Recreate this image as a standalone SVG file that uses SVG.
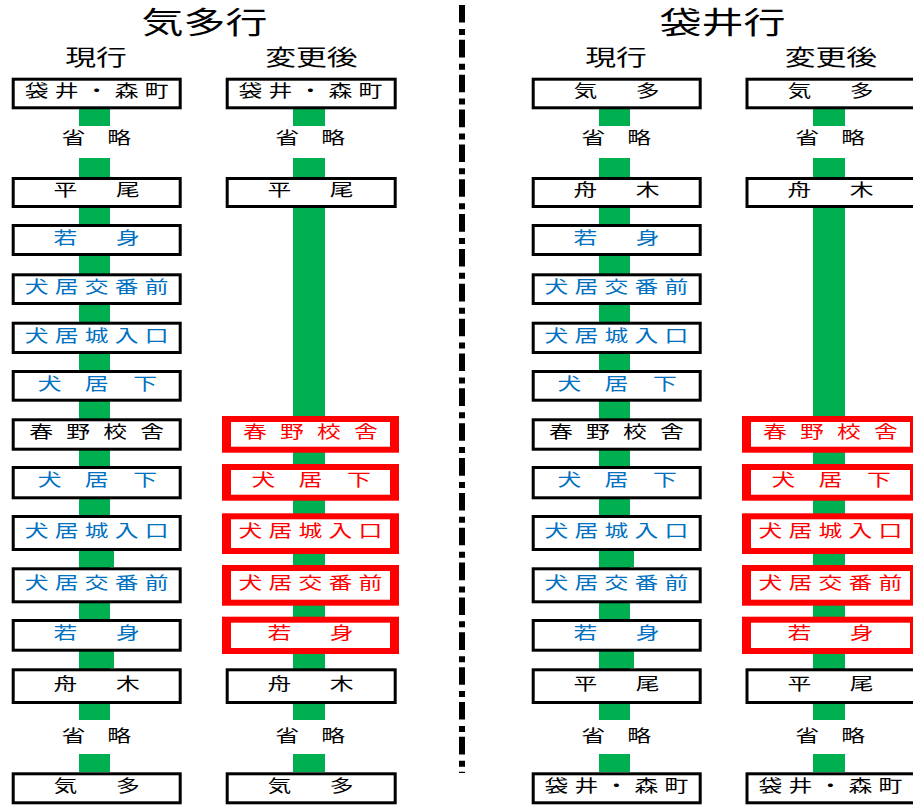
<svg xmlns="http://www.w3.org/2000/svg" width="913" height="805" viewBox="0 0 913 805">
<style>
text{font-family:"Noto Sans CJK JP","Noto Sans CJK SC",sans-serif;text-anchor:middle}
.box{fill:#fff;stroke:#000;stroke-width:3}
.rb{fill:#f00}
.in{fill:#fff}
.g{fill:#00B050}
.st{font-size:17px}
.k{fill:#000}.b{fill:#0070C0}.r{fill:#f00}
.t1{font-size:30px;fill:#000}
.t2{font-size:22px;fill:#000}
.div{stroke:#000;stroke-width:6;stroke-dasharray:17.6 6.3 6 4.95;fill:none}
</style>
<rect width="913" height="805" fill="#fff"/>
<g id="titles">
<text class="t1" x="204.5" y="33" transform="matrix(1.4 0 0 1 -81.8 0)">気多行</text>
<text class="t1" x="722.5" y="33" transform="matrix(1.4 0 0 1 -289 0)">袋井行</text>
<text class="t2" x="96" y="65.5" transform="matrix(1.4 0 0 1 -38.4 0)">現行</text>
<text class="t2" x="311.5" y="65.5" transform="matrix(1.4 0 0 1 -124.6 0)">変更後</text>
<text class="t2" x="616" y="65.5" transform="matrix(1.4 0 0 1 -246.4 0)">現行</text>
<text class="t2" x="831" y="65.5" transform="matrix(1.4 0 0 1 -332.4 0)">変更後</text>
</g>
<line id="divider" class="div" x1="462" y1="5" x2="462" y2="773"/>
<g id="connectors">
<rect class="g" x="79" y="109" width="31" height="17"/>
<rect class="g" x="79" y="158" width="31" height="562"/>
<rect class="g" x="79" y="551" width="35" height="16"/>
<rect class="g" x="79" y="651" width="35" height="17"/>
<rect class="g" x="79" y="754" width="31" height="18"/>
<rect class="g" x="293" y="109" width="32" height="17"/>
<rect class="g" x="293" y="158" width="32" height="562"/>
<rect class="g" x="293" y="754" width="32" height="18"/>
<rect class="g" x="599" y="109" width="31" height="17"/>
<rect class="g" x="599" y="158" width="31" height="562"/>
<rect class="g" x="599" y="551" width="35" height="16"/>
<rect class="g" x="599" y="651" width="35" height="17"/>
<rect class="g" x="599" y="754" width="31" height="18"/>
<rect class="g" x="813" y="109" width="32" height="17"/>
<rect class="g" x="813" y="158" width="32" height="562"/>
<rect class="g" x="813" y="754" width="32" height="18"/>
</g>
<g id="omit-labels" class="st k">
<text x="80 112.8" y="144.5" transform="matrix(1.4 0 0 1 -38.68 0)">省略</text>
<text x="80 112.8" y="742" transform="matrix(1.4 0 0 1 -38.68 0)">省略</text>
<text x="293.8 326.6" y="144.5" transform="matrix(1.4 0 0 1 -124.2 0)">省略</text>
<text x="293.8 326.6" y="742" transform="matrix(1.4 0 0 1 -124.2 0)">省略</text>
<text x="599.8 632.6" y="144.5" transform="matrix(1.4 0 0 1 -246.6 0)">省略</text>
<text x="599.8 632.6" y="742" transform="matrix(1.4 0 0 1 -246.6 0)">省略</text>
<text x="813.8 846.6" y="144.5" transform="matrix(1.4 0 0 1 -332.2 0)">省略</text>
<text x="813.8 846.6" y="742" transform="matrix(1.4 0 0 1 -332.2 0)">省略</text>
</g>

<!-- Left: 気多行 現行 -->
<g id="kita-cur-1"><rect class="box" x="13.2" y="79.2" width="167" height="28.6"/><text class="st k" x="53.84 75.27 96.7 118.13 139.56" y="97.3" transform="matrix(1.4 0 0 1 -38.68 0)">袋井・森町</text></g>
<g id="kita-cur-2"><rect class="box" x="13.2" y="178.5" width="167" height="28"/><text class="st k" x="74.4 119" y="196.3" transform="matrix(1.4 0 0 1 -38.68 0)">平尾</text></g>
<g id="kita-cur-3"><rect class="box" x="13.2" y="225.5" width="167" height="29"/><text class="st b" x="74.4 119" y="243.8" transform="matrix(1.4 0 0 1 -38.68 0)">若身</text></g>
<g id="kita-cur-4"><rect class="box" x="13.2" y="274.8" width="167" height="28.7"/><text class="st b" x="53.84 75.27 96.7 118.13 139.56" y="293" transform="matrix(1.4 0 0 1 -38.68 0)">犬居交番前</text></g>
<g id="kita-cur-5"><rect class="box" x="13.2" y="323.2" width="167" height="29.3"/><text class="st b" x="53.84 75.27 96.7 118.13 139.56" y="341.7" transform="matrix(1.4 0 0 1 -38.68 0)">犬居城入口</text></g>
<g id="kita-cur-6"><rect class="box" x="13.2" y="371.5" width="167" height="28.7"/><text class="st b" x="63.1 96.7 131.3" y="389.7" transform="matrix(1.4 0 0 1 -38.68 0)">犬居下</text></g>
<g id="kita-cur-7"><rect class="box" x="13.2" y="419.8" width="167" height="29.4"/><text class="st k" x="57.06 83.49 109.91 136.34" y="438.3" transform="matrix(1.4 0 0 1 -38.68 0)">春野校舎</text></g>
<g id="kita-cur-8"><rect class="box" x="13.2" y="467.5" width="167" height="30.3"/><text class="st b" x="63.1 96.7 131.3" y="486.5" transform="matrix(1.4 0 0 1 -38.68 0)">犬居下</text></g>
<g id="kita-cur-9"><rect class="box" x="13.2" y="516.5" width="167" height="33"/><text class="st b" x="53.84 75.27 96.7 118.13 139.56" y="536.8" transform="matrix(1.4 0 0 1 -38.68 0)">犬居城入口</text></g>
<g id="kita-cur-10"><rect class="box" x="13.2" y="568.8" width="167" height="33"/><text class="st b" x="53.84 75.27 96.7 118.13 139.56" y="589.1" transform="matrix(1.4 0 0 1 -38.68 0)">犬居交番前</text></g>
<g id="kita-cur-11"><rect class="box" x="13.2" y="620.5" width="167" height="29.7"/><text class="st b" x="74.4 119" y="639.2" transform="matrix(1.4 0 0 1 -38.68 0)">若身</text></g>
<g id="kita-cur-12"><rect class="box" x="13.2" y="669.8" width="167" height="32.7"/><text class="st k" x="74.4 119" y="690" transform="matrix(1.4 0 0 1 -38.68 0)">舟木</text></g>
<g id="kita-cur-13"><rect class="box" x="13.2" y="773.8" width="167" height="29"/><text class="st k" x="74.4 119" y="792.1" transform="matrix(1.4 0 0 1 -38.68 0)">気多</text></g>

<!-- Left: 気多行 変更後 -->
<g id="kita-new-1"><rect class="box" x="227.2" y="79.2" width="168" height="28.6"/><text class="st k" x="267.64 289.07 310.5 331.93 353.36" y="97.3" transform="matrix(1.4 0 0 1 -124.2 0)">袋井・森町</text></g>
<g id="kita-new-2"><rect class="box" x="227.2" y="178.5" width="168" height="28"/><text class="st k" x="288.2 332.8" y="196.3" transform="matrix(1.4 0 0 1 -124.2 0)">平尾</text></g>
<g id="kita-new-7"><rect class="rb" x="222" y="416" width="177" height="36.7"/><rect class="in" x="231" y="422" width="159" height="24.7"/><text class="st r" x="270.86 297.29 323.71 350.14" y="438" transform="matrix(1.4 0 0 1 -124.2 0)">春野校舎</text></g>
<g id="kita-new-8"><rect class="rb" x="222" y="464" width="177" height="36.7"/><rect class="in" x="231" y="470" width="159" height="24.7"/><text class="st r" x="276.9 310.5 345.1" y="486" transform="matrix(1.4 0 0 1 -124.2 0)">犬居下</text></g>
<g id="kita-new-9"><rect class="rb" x="222" y="513.3" width="177" height="40.7"/><rect class="in" x="231" y="519.3" width="159" height="28.7"/><text class="st r" x="267.64 289.07 310.5 331.93 353.36" y="537" transform="matrix(1.4 0 0 1 -124.2 0)">犬居城入口</text></g>
<g id="kita-new-10"><rect class="rb" x="222" y="565" width="177" height="40.7"/><rect class="in" x="231" y="571" width="159" height="28.7"/><text class="st r" x="267.64 289.07 310.5 331.93 353.36" y="589" transform="matrix(1.4 0 0 1 -124.2 0)">犬居交番前</text></g>
<g id="kita-new-11"><rect class="rb" x="222" y="616.7" width="177" height="37.3"/><rect class="in" x="231" y="622.7" width="159" height="25.3"/><text class="st r" x="288.2 332.8" y="639" transform="matrix(1.4 0 0 1 -124.2 0)">若身</text></g>
<g id="kita-new-12"><rect class="box" x="227.2" y="669.8" width="168" height="32.7"/><text class="st k" x="288.2 332.8" y="690" transform="matrix(1.4 0 0 1 -124.2 0)">舟木</text></g>
<g id="kita-new-13"><rect class="box" x="227.2" y="773.8" width="168" height="29"/><text class="st k" x="288.2 332.8" y="792.1" transform="matrix(1.4 0 0 1 -124.2 0)">気多</text></g>

<!-- Right: 袋井行 現行 -->
<g id="fukuroi-cur-1"><rect class="box" x="533.2" y="79.2" width="167" height="28.6"/><text class="st k" x="594.2 638.8" y="97.3" transform="matrix(1.4 0 0 1 -246.6 0)">気多</text></g>
<g id="fukuroi-cur-2"><rect class="box" x="533.2" y="178.5" width="167" height="28"/><text class="st k" x="594.2 638.8" y="196.3" transform="matrix(1.4 0 0 1 -246.6 0)">舟木</text></g>
<g id="fukuroi-cur-3"><rect class="box" x="533.2" y="225.5" width="167" height="29"/><text class="st b" x="594.2 638.8" y="243.8" transform="matrix(1.4 0 0 1 -246.6 0)">若身</text></g>
<g id="fukuroi-cur-4"><rect class="box" x="533.2" y="274.8" width="167" height="28.7"/><text class="st b" x="573.64 595.07 616.5 637.93 659.36" y="293" transform="matrix(1.4 0 0 1 -246.6 0)">犬居交番前</text></g>
<g id="fukuroi-cur-5"><rect class="box" x="533.2" y="323.2" width="167" height="29.3"/><text class="st b" x="573.64 595.07 616.5 637.93 659.36" y="341.7" transform="matrix(1.4 0 0 1 -246.6 0)">犬居城入口</text></g>
<g id="fukuroi-cur-6"><rect class="box" x="533.2" y="371.5" width="167" height="28.7"/><text class="st b" x="582.9 616.5 651.1" y="389.7" transform="matrix(1.4 0 0 1 -246.6 0)">犬居下</text></g>
<g id="fukuroi-cur-7"><rect class="box" x="533.2" y="419.8" width="167" height="29.4"/><text class="st k" x="576.86 603.29 629.71 656.14" y="438.3" transform="matrix(1.4 0 0 1 -246.6 0)">春野校舎</text></g>
<g id="fukuroi-cur-8"><rect class="box" x="533.2" y="467.5" width="167" height="30.3"/><text class="st b" x="582.9 616.5 651.1" y="486.5" transform="matrix(1.4 0 0 1 -246.6 0)">犬居下</text></g>
<g id="fukuroi-cur-9"><rect class="box" x="533.2" y="516.5" width="167" height="33"/><text class="st b" x="573.64 595.07 616.5 637.93 659.36" y="536.8" transform="matrix(1.4 0 0 1 -246.6 0)">犬居城入口</text></g>
<g id="fukuroi-cur-10"><rect class="box" x="533.2" y="568.8" width="167" height="33"/><text class="st b" x="573.64 595.07 616.5 637.93 659.36" y="589.1" transform="matrix(1.4 0 0 1 -246.6 0)">犬居交番前</text></g>
<g id="fukuroi-cur-11"><rect class="box" x="533.2" y="620.5" width="167" height="29.7"/><text class="st b" x="594.2 638.8" y="639.2" transform="matrix(1.4 0 0 1 -246.6 0)">若身</text></g>
<g id="fukuroi-cur-12"><rect class="box" x="533.2" y="669.8" width="167" height="32.7"/><text class="st k" x="594.2 638.8" y="690" transform="matrix(1.4 0 0 1 -246.6 0)">平尾</text></g>
<g id="fukuroi-cur-13"><rect class="box" x="533.2" y="773.8" width="167" height="29"/><text class="st k" x="573.64 595.07 616.5 637.93 659.36" y="792.1" transform="matrix(1.4 0 0 1 -246.6 0)">袋井・森町</text></g>

<!-- Right: 袋井行 変更後 -->
<g id="fukuroi-new-1"><rect class="box" x="747" y="79.2" width="168" height="28.6"/><text class="st k" x="808.2 852.8" y="97.3" transform="matrix(1.4 0 0 1 -332.2 0)">気多</text></g>
<g id="fukuroi-new-2"><rect class="box" x="747" y="178.5" width="168" height="28"/><text class="st k" x="808.2 852.8" y="196.3" transform="matrix(1.4 0 0 1 -332.2 0)">舟木</text></g>
<g id="fukuroi-new-7"><rect class="rb" x="742" y="416" width="177" height="36.7"/><rect class="in" x="751" y="422" width="159" height="24.7"/><text class="st r" x="790.86 817.29 843.71 870.14" y="438" transform="matrix(1.4 0 0 1 -332.2 0)">春野校舎</text></g>
<g id="fukuroi-new-8"><rect class="rb" x="742" y="464" width="177" height="36.7"/><rect class="in" x="751" y="470" width="159" height="24.7"/><text class="st r" x="796.9 830.5 865.1" y="486" transform="matrix(1.4 0 0 1 -332.2 0)">犬居下</text></g>
<g id="fukuroi-new-9"><rect class="rb" x="742" y="513.3" width="177" height="40.7"/><rect class="in" x="751" y="519.3" width="159" height="28.7"/><text class="st r" x="787.64 809.07 830.5 851.93 873.36" y="537" transform="matrix(1.4 0 0 1 -332.2 0)">犬居城入口</text></g>
<g id="fukuroi-new-10"><rect class="rb" x="742" y="565" width="177" height="40.7"/><rect class="in" x="751" y="571" width="159" height="28.7"/><text class="st r" x="787.64 809.07 830.5 851.93 873.36" y="589" transform="matrix(1.4 0 0 1 -332.2 0)">犬居交番前</text></g>
<g id="fukuroi-new-11"><rect class="rb" x="742" y="616.7" width="177" height="37.3"/><rect class="in" x="751" y="622.7" width="159" height="25.3"/><text class="st r" x="808.2 852.8" y="639" transform="matrix(1.4 0 0 1 -332.2 0)">若身</text></g>
<g id="fukuroi-new-12"><rect class="box" x="747" y="669.8" width="168" height="32.7"/><text class="st k" x="808.2 852.8" y="690" transform="matrix(1.4 0 0 1 -332.2 0)">平尾</text></g>
<g id="fukuroi-new-13"><rect class="box" x="747" y="773.8" width="168" height="29"/><text class="st k" x="787.64 809.07 830.5 851.93 873.36" y="792.1" transform="matrix(1.4 0 0 1 -332.2 0)">袋井・森町</text></g>
</svg>
